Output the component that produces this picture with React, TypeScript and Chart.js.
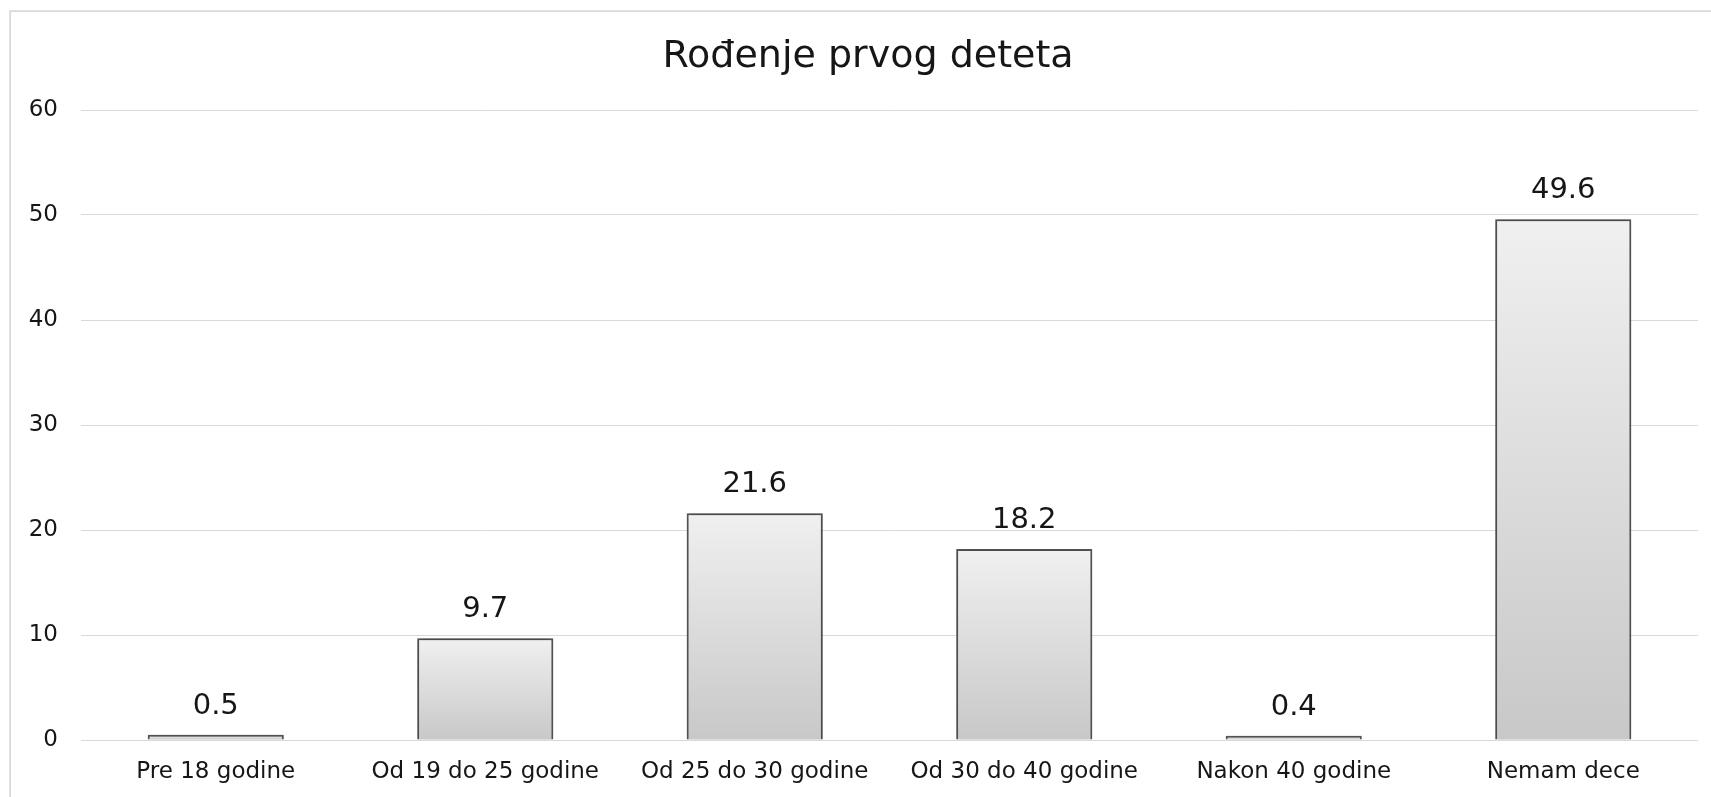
import React, { useEffect, useRef } from 'react';
import { Chart, registerables } from 'chart.js';

Chart.register(...registerables);

const chartTitle = 'Rođenje prvog deteta';
const categories = [
  'Pre 18 godine',
  'Od 19 do 25 godine',
  'Od 25 do 30 godine',
  'Od 30 do 40 godine',
  'Nakon 40 godine',
  'Nemam dece',
];
const values = [0.5, 9.7, 21.6, 18.2, 0.4, 49.6];
const yTicks = [0, 10, 20, 30, 40, 50, 60];

const FONT = '"DejaVu Sans", sans-serif';
const TEXT = '#161616';
const W = 1714;
const H = 800;

const barDecor = {
  id: 'barDecor',
  beforeDatasetsDraw(chart: any) {
    const ctx = chart.ctx;
    ctx.save();
    ctx.shadowColor = 'rgba(0,0,0,0.35)';
    ctx.shadowBlur = 5;
    ctx.shadowOffsetX = 0;
    ctx.shadowOffsetY = 0;
  },
  afterDatasetsDraw(chart: any) {
    const ctx = chart.ctx;
    ctx.restore();
    const meta = chart.getDatasetMeta(0);
    ctx.save();
    ctx.font = `29px ${FONT}`;
    ctx.fillStyle = TEXT;
    ctx.textAlign = 'center';
    ctx.textBaseline = 'alphabetic';
    meta.data.forEach((el: any, i: number) => {
      ctx.fillText(String(values[i]), el.x, el.y - 21);
    });
    ctx.restore();
  },
};

export default function App() {
  const ref = useRef<HTMLCanvasElement | null>(null);

  useEffect(() => {
    if (!ref.current) return;
    const chart = new Chart(ref.current, {
      type: 'bar',
      data: {
        labels: categories,
        datasets: [
          {
            data: values,
            yAxisID: 'y',
            backgroundColor: (c: any) => {
              const ch = c.chart;
              const y = ch.scales && ch.scales.y;
              if (c.type !== 'data' || !y) return '#dcdcdc';
              const top = y.getPixelForValue(c.raw as number);
              const bot = y.getPixelForValue(0);
              if (!isFinite(top) || !isFinite(bot) || top === bot) return '#dcdcdc';
              const g = ch.ctx.createLinearGradient(0, top, 0, bot);
              g.addColorStop(0, '#f0f0f0');
              g.addColorStop(1, '#c8c8c8');
              return g;
            },
            borderColor: '#575757',
            borderWidth: 2,
            categoryPercentage: 1,
            barPercentage: 0.505,
          },
        ],
      },
      options: {
        responsive: false,
        animation: false,
        layout: { padding: { left: 0, right: 0, top: 0, bottom: 0 } },
        plugins: {
          legend: { display: false },
          tooltip: { enabled: false },
          title: {
            display: true,
            text: chartTitle,
            color: TEXT,
            font: { family: FONT, size: 38, weight: 'normal' },
            padding: { top: 22, bottom: 30.4 },
          },
        },
        scales: {
          x: {
            grid: { display: false, drawTicks: false },
            border: { display: false },
            ticks: {
              color: TEXT,
              font: { family: FONT, size: 23 },
              padding: 18,
              maxRotation: 0,
              autoSkip: false,
            },
            afterFit: (s: any) => {
              s.height = 72;
            },
          },
          y: {
            position: 'left',
            min: 0,
            max: 60,
            afterBuildTicks: (s: any) => {
              s.ticks = yTicks.map((v) => ({ value: v }));
            },
            grid: { color: '#d9d9d9', lineWidth: 1, drawTicks: false },
            border: { display: false },
            ticks: {
              color: TEXT,
              font: { family: FONT, size: 23 },
              padding: 23,
            },
            afterFit: (s: any) => {
              s.width = 70;
            },
          },
          spacer: {
            type: 'linear',
            position: 'right',
            display: true,
            grid: { display: false, drawTicks: false },
            border: { display: false },
            ticks: { display: false },
            afterFit: (s: any) => {
              s.width = 27;
            },
          },
        },
      },
      plugins: [barDecor],
    });
    return () => chart.destroy();
  }, []);

  return (
    <div
      style={{
        position: 'fixed',
        left: 0,
        top: 0,
        width: 1711,
        height: 797,
        overflow: 'hidden',
        background: '#fff',
      }}
    >
      <div
        style={{
          position: 'absolute',
          left: 10,
          top: 11,
          width: W,
          height: H,
          border: '1px solid #d9d9d9',
          boxShadow: '-1px -1px 0 0 #e2e2e2',
        }}
      >
        <canvas ref={ref} width={W} height={H} style={{ display: 'block', width: W, height: H }} />
      </div>
    </div>
  );
}
